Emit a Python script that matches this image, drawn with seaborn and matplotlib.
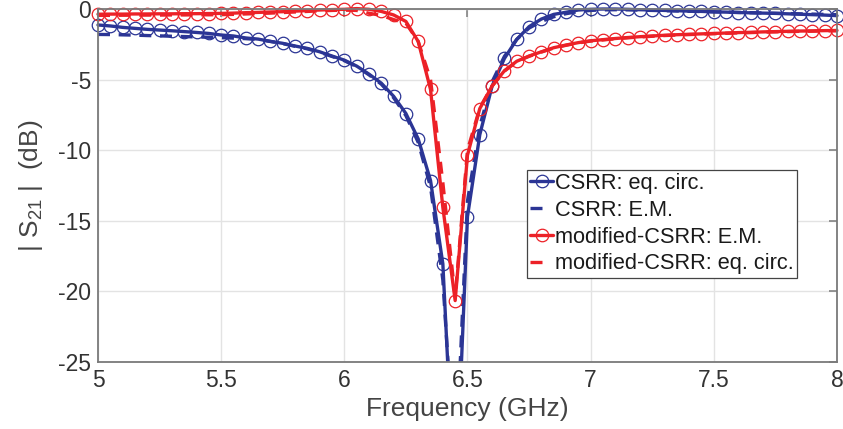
import numpy as np
import pandas as pd
import matplotlib
matplotlib.use("Agg")
import matplotlib.pyplot as plt
import seaborn as sns
from matplotlib.patches import Rectangle

# ---------------- data ----------------
freq = [5.00, 5.05, 5.10, 5.15, 5.20, 5.25, 5.30, 5.35, 5.40, 5.45,
        5.50, 5.55, 5.60, 5.65, 5.70, 5.75, 5.80, 5.85, 5.90, 5.95,
        6.00, 6.05, 6.10, 6.15, 6.20, 6.25, 6.30, 6.35, 6.40, 6.45,
        6.50, 6.55, 6.60, 6.65, 6.70, 6.75, 6.80, 6.85, 6.90, 6.95,
        7.00, 7.05, 7.10, 7.15, 7.20, 7.25, 7.30, 7.35, 7.40, 7.45,
        7.50, 7.55, 7.60, 7.65, 7.70, 7.75, 7.80, 7.85, 7.90, 7.95,
        8.00]

csrr_eq = [-1.13, -1.20, -1.30, -1.37, -1.44, -1.49, -1.54, -1.60, -1.66, -1.73,
           -1.84, -1.91, -2.05, -2.13, -2.29, -2.43, -2.62, -2.79, -3.03, -3.33,
           -3.62, -4.04, -4.61, -5.25, -6.18, -7.40, -9.20, -12.15, -18.05, -35.8,
           -14.70, -8.90, -5.45, -3.50, -2.15, -1.25, -0.71, -0.38, -0.23, -0.07,
           -0.02, 0.00, 0.00, -0.02, -0.05, -0.07, -0.10, -0.12, -0.15, -0.17,
           -0.20, -0.22, -0.25, -0.27, -0.29, -0.31, -0.34, -0.37, -0.40, -0.43,
           -0.47]

csrr_em = [-1.80, -1.81, -1.83, -1.85, -1.88, -1.90, -1.93, -1.95, -1.98, -2.00,
           -2.03, -2.06, -2.10, -2.16, -2.30, -2.45, -2.64, -2.82, -3.06, -3.36,
           -3.66, -4.08, -4.66, -5.32, -6.28, -7.55, -9.45, -12.60, -19.20, -33.0,
           -13.60, -8.30, -5.15, -3.35, -2.15, -1.35, -0.88, -0.55, -0.33, -0.18,
           -0.10, -0.06, -0.05, -0.06, -0.08, -0.10, -0.12, -0.14, -0.16, -0.18,
           -0.20, -0.22, -0.24, -0.26, -0.28, -0.30, -0.32, -0.34, -0.36, -0.38,
           -0.40]

mod_em = [-0.37, -0.36, -0.36, -0.35, -0.35, -0.34, -0.34, -0.33, -0.33, -0.32,
          -0.31, -0.29, -0.26, -0.24, -0.21, -0.19, -0.15, -0.11, -0.07, -0.04,
          -0.02, 0.03, -0.02, -0.17, -0.42, -0.88, -2.30, -5.70, -14.05, -20.65,
          -10.35, -7.05, -5.45, -4.37, -3.70, -3.33, -3.03, -2.74, -2.55, -2.38,
          -2.25, -2.17, -2.09, -2.02, -1.96, -1.91, -1.86, -1.82, -1.79, -1.76,
          -1.73, -1.70, -1.67, -1.65, -1.62, -1.60, -1.58, -1.56, -1.55, -1.53,
          -1.52]

mod_eq = [-0.45, -0.45, -0.44, -0.44, -0.43, -0.43, -0.42, -0.42, -0.41, -0.41,
          -0.40, -0.38, -0.35, -0.32, -0.29, -0.25, -0.21, -0.17, -0.13, -0.10,
          -0.08, -0.10, -0.30, -0.45, -0.75, -1.00, -2.30, -5.00, -12.30, -20.40,
          -10.00, -7.00, -5.45, -4.40, -3.72, -3.35, -3.05, -2.76, -2.57, -2.40,
          -2.27, -2.19, -2.11, -2.04, -1.98, -1.93, -1.88, -1.84, -1.81, -1.78,
          -1.75, -1.72, -1.69, -1.67, -1.64, -1.62, -1.60, -1.58, -1.57, -1.55,
          -1.54]

labels = ["CSRR: eq. circ.", "CSRR: E.M.",
          "modified-CSRR: E.M.", "modified-CSRR: eq. circ."]
xticks = [5, 5.5, 6, 6.5, 7, 7.5, 8]
yticks = [-25, -20, -15, -10, -5, 0]

# ---------------- style ----------------
sns.set_style("white")
plt.rcParams['font.family'] = ['Liberation Sans', 'DejaVu Sans']
plt.rcParams['axes.unicode_minus'] = False
plt.rcParams['mathtext.fontset'] = 'custom'
plt.rcParams['mathtext.rm'] = 'Liberation Sans'
plt.rcParams['mathtext.it'] = 'Liberation Sans:italic'

blue = '#2B3595'
red = '#EC2127'
axcol = '#7a7a7a'
txtcol = '#333333'

fig = plt.figure(figsize=(8.43, 4.29), dpi=100)
ax = fig.add_axes([0.11625, 0.15618, 0.8766, 0.8228])

df = pd.DataFrame({'f': freq, 'csrr_eq': csrr_eq, 'csrr_em': csrr_em,
                   'mod_em': mod_em, 'mod_eq': mod_eq})

lw = 2.4
sns.lineplot(data=df, x='f', y='csrr_eq', ax=ax, color=blue, lw=lw,
             marker='o', markersize=9, markerfacecolor='none',
             markeredgecolor=blue, markeredgewidth=0.9, label=labels[0])
sns.lineplot(data=df, x='f', y='csrr_em', ax=ax, color=blue, lw=lw,
             dashes=False, label=labels[1])
sns.lineplot(data=df, x='f', y='mod_em', ax=ax, color=red, lw=lw,
             marker='o', markersize=9, markerfacecolor='none',
             markeredgecolor=red, markeredgewidth=0.9, label=labels[2])
sns.lineplot(data=df, x='f', y='mod_eq', ax=ax, color=red, lw=lw,
             dashes=False, label=labels[3])

lines = ax.get_lines()
for ln in (lines[1], lines[3]):
    ln.set_linestyle((0, (3.6, 2.6)))
# let markers spill over the box edges like MATLAB, but clip the bottom
clip = Rectangle((-0.02, 0.0), 1.04, 1.04, transform=ax.transAxes,
                 facecolor='none', edgecolor='none')
for ln in lines:
    ln.set_clip_path(clip)

ax.set_xlim(5, 8)
ax.set_ylim(-25, 0)
ax.set_xticks(xticks)
ax.set_xticklabels(['5', '5.5', '6', '6.5', '7', '7.5', '8'])
ax.set_yticks(yticks)
ax.set_yticklabels([str(v) for v in yticks])

ax.grid(True, color='#e3e3e3', lw=1.0)
ax.set_axisbelow(True)
for s in ax.spines.values():
    s.set_color(axcol)
    s.set_linewidth(1.3)
    s.set_visible(True)
ax.tick_params(direction='in', length=6, width=1.1, color=axcol,
               top=True, right=True, labelsize=16.5, labelcolor=txtcol, pad=5)

ax.set_xlabel('Frequency (GHz)', fontsize=19, color='#444444')
ax.set_ylabel(r'| S$\mathregular{_{21}}$ |  (dB)', fontsize=19, color='#444444')
ax.xaxis.set_label_coords(0.5, -0.099)
ax.yaxis.set_label_coords(-0.072, 0.5)

leg = ax.legend(loc='upper left', bbox_to_anchor=(0.5805, 0.5453),
                borderaxespad=0, fontsize=15.7, frameon=True, fancybox=False,
                framealpha=1, edgecolor='#444444', borderpad=0.15,
                handlelength=1.05, handletextpad=0.08, labelspacing=0.27)
leg.get_frame().set_linewidth(0.9)
for t in leg.get_texts():
    t.set_color('#1a1a1a')
leg_lines = leg.get_lines()
for i in (1, 3):
    leg_lines[i].set_linestyle((0, (3.6, 8.0)))

fig.savefig('out.png', dpi=100)
